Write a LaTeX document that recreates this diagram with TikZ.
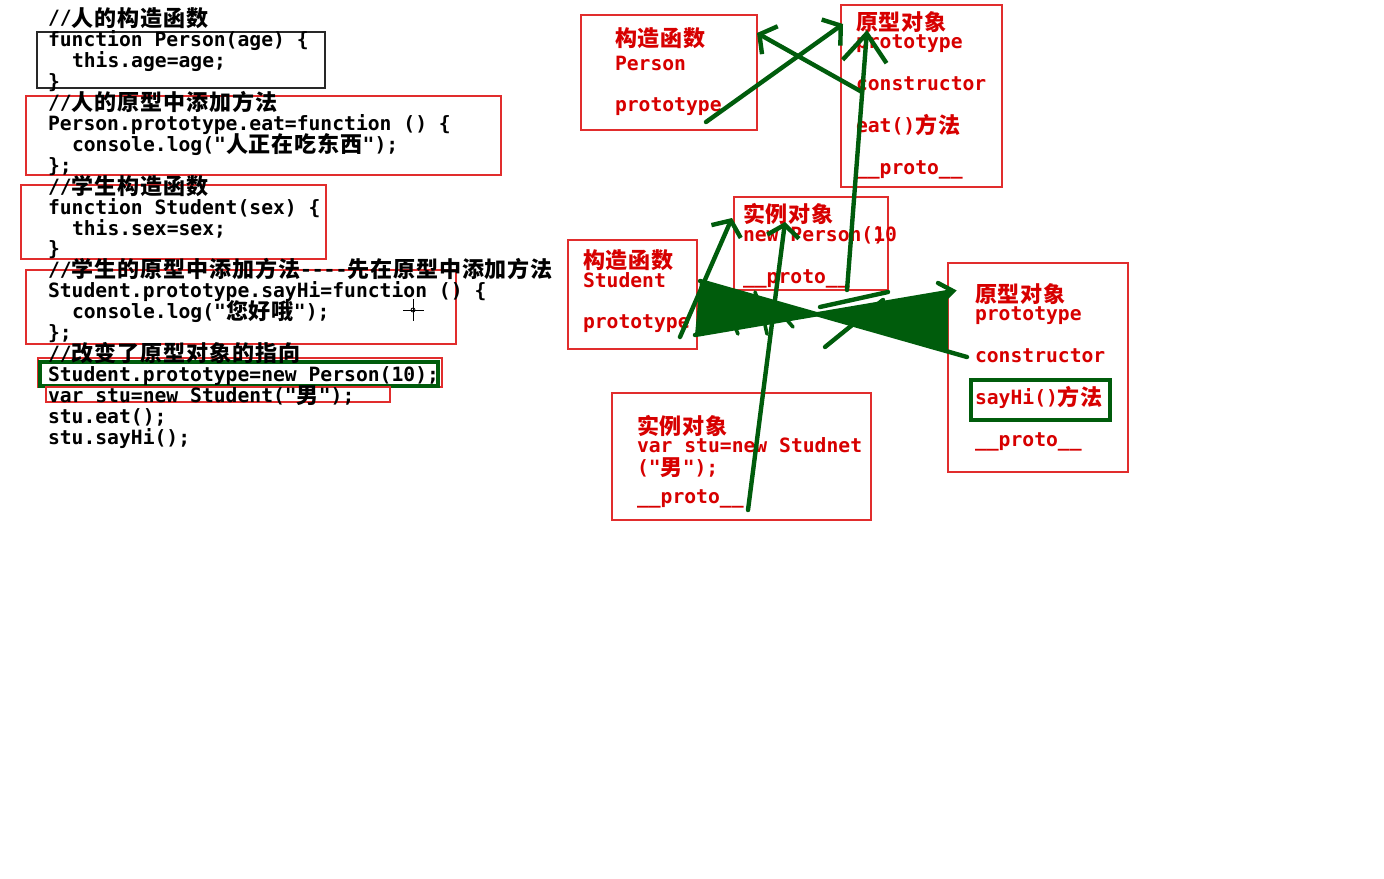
\documentclass[tikz,border=0pt]{standalone}
\usepackage{fontspec}
\setmonofont{DejaVu Sans Mono}
\newfontfamily\cjkf[Scale=1.12,LetterSpace=4]{Noto Sans CJK SC}
\newcommand{\zh}[1]{{\cjkf\bfseries\raisebox{-0.6pt}{#1}}}
\usetikzlibrary{arrows.meta}
\definecolor{dgreen}{RGB}{0,92,12}
\definecolor{bred}{RGB}{225,45,45}
\definecolor{tred}{RGB}{215,0,0}
\definecolor{kgray}{RGB}{40,40,40}
\begin{document}
\begin{tikzpicture}[x=0.5pt,y=-0.5pt,
  code/.style={anchor=base west,inner sep=0pt,outer sep=0pt,font=\ttfamily\bfseries\fontsize{9.84}{11}\selectfont},
  rtxt/.style={code,text=tred},
  box/.style={draw,anchor=north west,inner sep=0pt,outer sep=0pt},
  rbox/.style={box,draw=bred,line width=0.7pt},
  gbox/.style={box,draw=dgreen,line width=1.6pt},
  kbox/.style={box,draw=kgray,line width=0.8pt},
  gline/.style={draw=dgreen,line width=2.2pt,line cap=round},
  garr/.style={gline,-{Straight Barb[length=6pt,width=16pt]}},
]
\useasboundingbox[fill=white] (0,0) rectangle (1384,878);

% ---------- code boxes ----------
\node[kbox,minimum width=144pt,minimum height=28pt] (k1) at (37,32) {};
\node[rbox,minimum width=237.5pt,minimum height=39.5pt] (k2) at (26,96) {};
\node[rbox,minimum width=152.5pt,minimum height=37pt] (k3) at (21,185) {};
\node[rbox,minimum width=215pt,minimum height=37pt] (k4) at (26,270) {};
\node[rbox,minimum width=202pt,minimum height=14.5pt] (k5) at (38,358) {};
\node[gbox,minimum width=199pt,minimum height=12pt] (k5g) at (40,362) {};
\node[rbox,minimum width=172pt,minimum height=7.5pt] (k6) at (46,387) {};

% ---------- code text ----------
\node[code] (c0)  at (48,25)  {//\zh{人的构造函数}};
\node[code] (c1)  at (48,46)  {function Person(age) \{};
\node[code] (c2)  at (72,67)  {this.age=age;};
\node[code] (c3)  at (48,88)  {\}};
\node[code] (c4)  at (48,109) {//\zh{人的原型中添加方法}};
\node[code] (c5)  at (48,130) {Person.prototype.eat=function () \{};
\node[code] (c6)  at (72,151) {console.log("\zh{人正在吃东西}");};
\node[code] (c7)  at (48,172) {\};};
\node[code] (c8)  at (48,193) {//\zh{学生构造函数}};
\node[code] (c9)  at (48,214) {function Student(sex) \{};
\node[code] (c10) at (72,235) {this.sex=sex;};
\node[code] (c11) at (48,255) {\}};
\node[code] (c12) at (48,276) {//\zh{学生的原型中添加方法}----\zh{先在原型中添加方法}};
\node[code] (c13) at (48,297) {Student.prototype.sayHi=function () \{};
\node[code] (c14) at (72,318) {console.log("\zh{您好哦}");};
\node[code] (c15) at (48,339) {\};};
\node[code] (c16) at (48,360) {//\zh{改变了原型对象的指向}};
\node[code] (c17) at (48,381) {Student.prototype=new Person(10);};
\node[code] (c18) at (48,402) {var stu=new Student("\zh{男}");};
\node[code] (c19) at (48,423) {stu.eat();};
\node[code] (c20) at (48,444) {stu.sayHi();};

% cursor
\draw[black,line width=0.5pt] (403,310) -- (424,310) (413,299) -- (413,321);
\node[draw=black,circle,inner sep=0pt,minimum size=2pt,line width=0.4pt] (cur) at (413,310) {};

% ---------- diagram boxes ----------
\node[rbox,minimum width=88pt,minimum height=57.5pt] (bA) at (581,15) {};
\node[rbox,minimum width=80.5pt,minimum height=91pt] (bB) at (841,5) {};
\node[rbox,minimum width=77pt,minimum height=46.5pt] (bC) at (734,197) {};
\node[rbox,minimum width=64.5pt,minimum height=54.5pt] (bD) at (568,240) {};
\node[rbox,minimum width=129.5pt,minimum height=63.5pt] (bE) at (612,393) {};
\node[rbox,minimum width=90pt,minimum height=104.5pt] (bF) at (948,263) {};
\node[gbox,minimum width=69.5pt,minimum height=20pt] (bFg) at (971,380) {};

% ---------- diagram text ----------
\node[rtxt] (tA1) at (615,45)  {\zh{构造函数}};
\node[rtxt] (tA2) at (615,70)  {Person};
\node[rtxt] (tA3) at (615,111) {prototype};

\node[rtxt] (tB1) at (856,29)  {\zh{原型对象}};
\node[rtxt] (tB2) at (856,48)  {prototype};
\node[rtxt] (tB3) at (856,90)  {constructor};
\node[rtxt] (tB4) at (856,132) {eat()\zh{方法}};
\node[rtxt] (tB5) at (856,174) {\_\_proto\_\_};

\node[rtxt] (tC1) at (743,221) {\zh{实例对象}};
\node[rtxt] (tC2) at (743,241) {new Person(\rlap{)}10};
\node[rtxt] (tC3) at (743,283) {\_\_proto\_\_};

\node[rtxt] (tD1) at (583,267) {\zh{构造函数}};
\node[rtxt] (tD2) at (583,287) {Student};
\node[rtxt] (tD3) at (583,328) {prototype};

\node[rtxt] (tE1) at (637,433) {\zh{实例对象}};
\node[rtxt] (tE2) at (637,452) {var stu=new Studnet};
\node[rtxt] (tE3) at (637,474) {("\zh{男}");};
\node[rtxt] (tE4) at (637,503) {\_\_proto\_\_};

\node[rtxt] (tF1) at (975,301) {\zh{原型对象}};
\node[rtxt] (tF2) at (975,320) {prototype};
\node[rtxt] (tF3) at (975,362) {constructor};
\node[rtxt] (tF4) at (975,404) {sayHi()\zh{方法}};
\node[rtxt] (tF5) at (975,446) {\_\_proto\_\_};

% ---------- connector end points ----------
\coordinate (p1s) at (706,122);  \coordinate (p1e) at (843,24);
\coordinate (p2s) at (862,92);   \coordinate (p2e) at (757,33);
\coordinate (p3s) at (847,290);  \coordinate (p3e) at (867,30);
\coordinate (p4s) at (680,337);  \coordinate (p4e) at (732,218);
\coordinate (p5s) at (748,510);  \coordinate (p5e) at (785,222);
\coordinate (dT) at (700,281);   \coordinate (dB) at (695,335);
\coordinate (xm) at (818,313);
\coordinate (fT) at (948,292);   \coordinate (fB) at (948,351);
\coordinate (fC) at (967,357);

% ---------- green connectors ----------
\draw[garr] (p1s) -- (p1e);
\draw[garr] (p2s) -- (p2e);
\draw[gline,-{Straight Barb[length=14pt,width=22pt]}] (p3s) -- (p3e);
\draw[garr] (p4s) -- (p4e);
\draw[garr] (p5s) -- (p5e);

% bow-tie of overdrawn arrows between Student and its prototype object
\fill[dgreen] (dT) -- (dB) -- (xm) -- cycle;
\fill[dgreen] (xm) -- (fT) -- (fB) -- cycle;
\draw[gline] (dT) -- (fC);
\draw[gline] (dB) -- (fT);
\draw[gline] (938,283) -- (953,291) -- (947,297);
\draw[gline] (820,307) -- (888,292);
\draw[gline] (825,347) -- (883,300);
\draw[gline,line width=1.8pt] (735,327) -- (738,334);
\draw[gline,line width=1.8pt] (765,325) -- (767,334);
\draw[gline,line width=1.8pt] (787,320) -- (793,327);
\draw[gline,line width=1.8pt] (755,292) -- (758,300);
\end{tikzpicture}
\end{document}
